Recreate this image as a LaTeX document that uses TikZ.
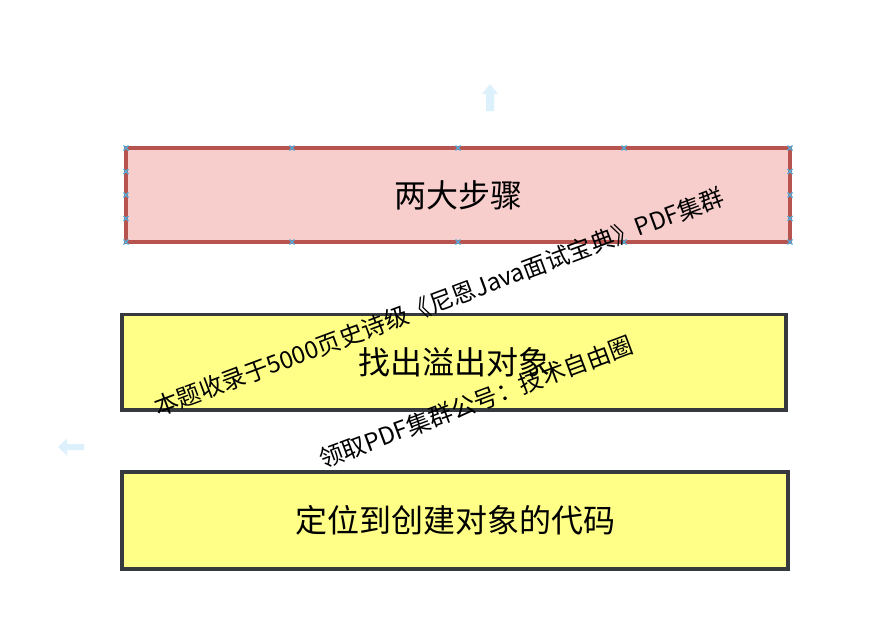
\documentclass[tikz,border=0pt]{standalone}
\usepackage{fontspec}
\setmainfont{Noto Sans CJK SC}
\newfontfamily\cjk{Noto Sans CJK SC}
\usetikzlibrary{arrows.meta}
\definecolor{redfill}{HTML}{F8CECC}
\definecolor{redline}{HTML}{B85450}
\definecolor{yelfill}{HTML}{FFFF88}
\definecolor{yelline}{HTML}{36393D}
\definecolor{hintblue}{HTML}{DDF1FC}
\definecolor{handle}{HTML}{4FAEDE}
\tikzset{
  box/.style={draw, line width=3.5pt, minimum width=664pt, minimum height=94pt, inner sep=0pt, font=\cjk\fontsize{32}{36}\selectfont},
  redbox/.style={box, fill=redfill, draw=redline},
  yelbox/.style={box, fill=yelfill, draw=yelline},
  wm/.style={font=\cjk\fontsize{24}{28}\selectfont, rotate=20.5, inner sep=0pt},
  hint/.style={draw=none, fill=hintblue},
  hd/.style={handle, line width=1.1pt}
}
\begin{document}
\begin{tikzpicture}[x=1pt,y=-1pt]
\useasboundingbox (0,0) rectangle (893,633);
\fill[white] (0,0) rectangle (893,633);
% hint arrows
\fill[hint] (482,94) -- (490,84) -- (498,94) -- (494,94) -- (494,111) -- (486,111) -- (486,94) -- cycle;
\fill[hint] (58,447) -- (67,438.5) -- (67,444) -- (84,444) -- (84,450) -- (67,450) -- (67,455.5) -- cycle;
% boxes
\node[redbox] (steps) at (458,195) {两大步骤};
\node[yelbox, minimum height=95.5pt] (find) at (454,362) {找出溢出对象};
\node[yelbox, minimum width=666pt, minimum height=97pt] (locate) at (455,520.5) {定位到创建对象的代码};
% selection handles
\foreach \px/\py in {126/148,292/148,458/148,624/148,790/148,126/242,292/242,458/242,624/242,790/242,126/171.5,126/195,126/218.5,790/171.5,790/195,790/218.5}{
  \draw[hd] (\px-2.5,\py-2.5) -- (\px+2.5,\py+2.5) (\px-2.5,\py+2.5) -- (\px+2.5,\py-2.5);
}
% watermark
\node[wm] (wm1) at (439,302) {本题收录于5000页史诗级《尼恩Java面试宝典》PDF集群};
\node[wm] (wm2) at (476,402) {领取PDF集群公号：技术自由圈};
\end{tikzpicture}
\end{document}
